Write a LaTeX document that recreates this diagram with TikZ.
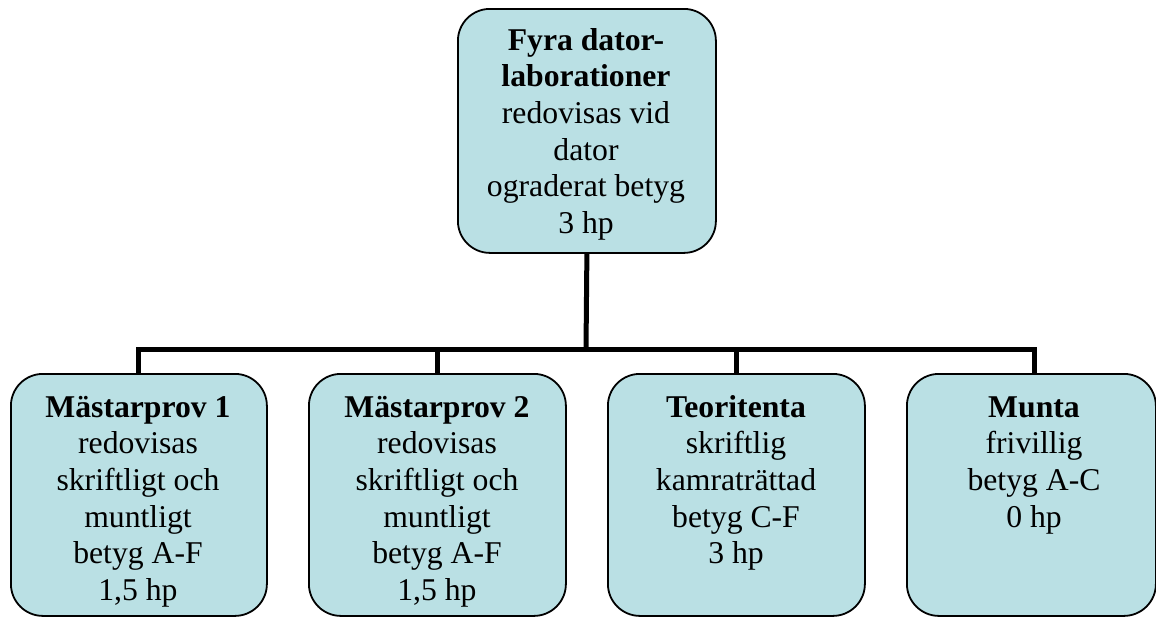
\documentclass[tikz,border=0pt]{standalone}
\usepackage{fontspec}
\setmainfont{Liberation Serif}
\definecolor{boxfill}{RGB}{186,224,228}
\newcommand{\firstline}{\rule{0pt}{26pt}}
\begin{document}
\begin{tikzpicture}[x=1pt,y=-1pt,
  card/.style={draw=black,line width=1.8pt,fill=boxfill,rounded corners=32pt,inner sep=0pt,anchor=north west},
  cardtxt/.style={align=center,inner sep=0pt,anchor=north,font=\fontsize{31.7}{36.6}\selectfont},
  link/.style={line width=5pt,line join=miter}]
\useasboundingbox (0,0) rectangle (1156,616);
% boxes
\node[card,minimum width=258pt,minimum height=244pt] (top) at (457,8) {};
\node[card,minimum width=256pt,minimum height=242pt] (b1) at (10,373) {};
\node[card,minimum width=257pt,minimum height=242pt] (b2) at (308,373) {};
\node[card,minimum width=257pt,minimum height=242pt] (b3) at (607,373) {};
\node[card,minimum width=249pt,minimum height=242pt] (b4) at (906,373) {};
% texts (first baseline at top edge + 26)
\node[cardtxt] (ttop) at (586,24) {\firstline\textbf{Fyra dator-}\\\textbf{laborationer}\\redovisas vid\\dator\\ograderat betyg\\3 hp};
\node[cardtxt] (t1) at (138,391) {\firstline\textbf{Mästarprov 1}\\redovisas\\skriftligt och\\muntligt\\betyg A-F\\1,5 hp};
\node[cardtxt] (t2) at (437,391) {\firstline\textbf{Mästarprov 2}\\redovisas\\skriftligt och\\muntligt\\betyg A-F\\1,5 hp};
\node[cardtxt] (t3) at (736,391) {\firstline\textbf{Teoritenta}\\skriftlig\\kamraträttad\\betyg C-F\\3 hp};
\node[cardtxt] (t4) at (1034,391) {\firstline\textbf{Munta}\\frivillig\\betyg A-C\\0 hp};
% connectors
\coordinate (j) at (586,349);
\coordinate (d1) at (138,373);
\coordinate (d2) at (437,373);
\coordinate (d3) at (736,373);
\coordinate (d4) at (1034,373);
\draw[link] (top.south) -- (j);
\draw[link] (d1) |- (j);
\draw[link] (d4) |- (j);
\draw[link] (d2) -- (d2 |- j);
\draw[link] (d3) -- (d3 |- j);
\end{tikzpicture}
\end{document}
